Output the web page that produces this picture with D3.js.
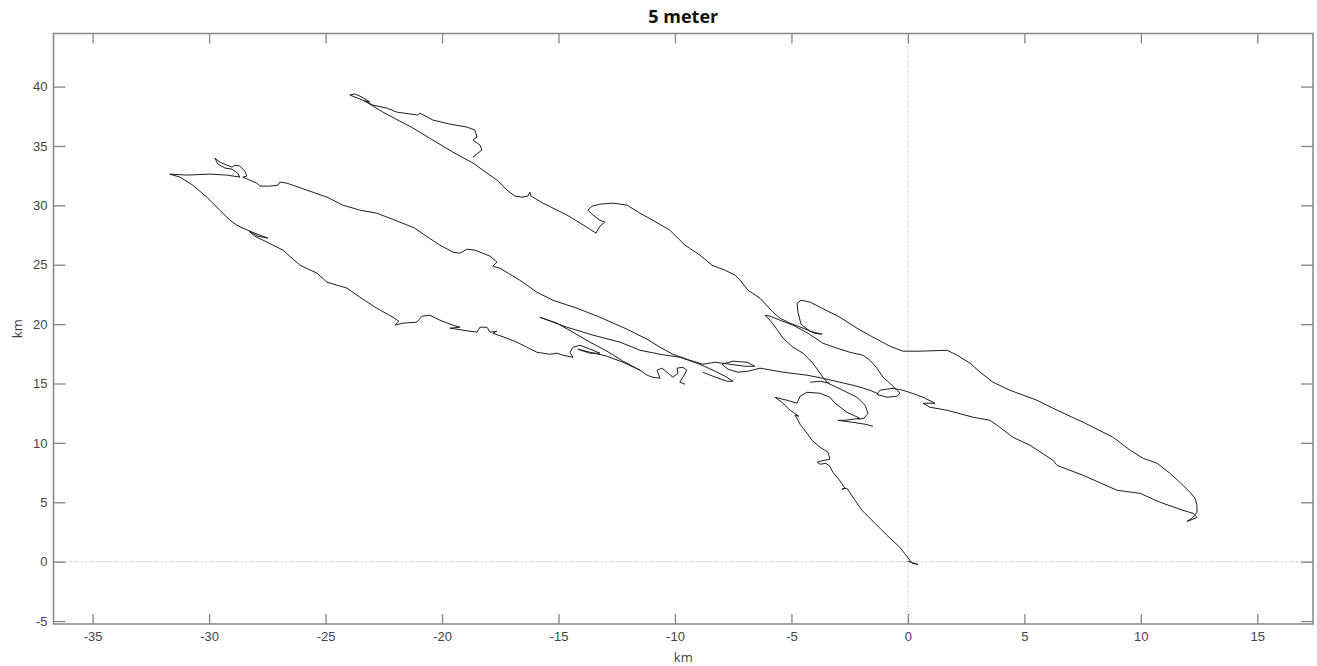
<!DOCTYPE html>
<html>
<head>
<meta charset="utf-8">
<script src="https://cdn.jsdelivr.net/npm/d3@7"></script>
<style>
  body { margin: 0; background: #fff; }
  svg { display: block; font-family: "Open Sans", sans-serif; }
</style>
</head>
<body>
<div id="chart"></div>
<script>
const chartTitle = "5 meter";
const xDomain = [-36.68, 17.39];
const yDomain = [-5.25, 44.47];
const xTicks = [-35, -30, -25, -20, -15, -10, -5, 0, 5, 10, 15];
const yTicks = [-5, 0, 5, 10, 15, 20, 25, 30, 35, 40];

// track pieces, km east / km north
const trackOrigin = [
  [0.0, 0.03], [0.43, -0.23], [0.18, -0.14], [-0.34, 1.2], [-0.9, 2.22], [-1.2, 2.81],
  [-1.5, 3.4], [-1.97, 4.32], [-2.36, 5.42], [-2.62, 6.18], [-2.83, 6.1], [-2.7, 6.2],
  [-3.0, 7.02], [-3.22, 7.52], [-3.35, 8.03], [-3.52, 8.28], [-3.77, 8.2], [-3.9, 8.37],
  [-3.6, 8.53], [-3.35, 8.62], [-3.43, 9.21], [-3.77, 9.63], [-4.12, 10.22], [-4.33, 10.81],
  [-4.63, 11.57], [-4.76, 12.07], [-4.85, 12.33], [-4.68, 12.24], [-5.06, 12.75], [-5.41, 13.42],
  [-5.71, 13.84], [-5.19, 13.59], [-4.76, 13.34], [-4.63, 13.93], [-4.33, 14.26], [-3.77, 14.18],
  [-3.35, 13.84], [-3.13, 13.34], [-2.62, 12.58], [-2.06, 12.07], [-2.7, 11.9], [-3.0, 11.9],
  [-2.4, 11.74], [-1.84, 11.57], [-1.5, 11.4]
];

const trackEast = [
  [-2.14, 11.99], [-1.89, 12.07], [-1.71, 12.49], [-1.84, 13.17], [-2.19, 13.84], [-2.79, 14.43],
  [-3.43, 15.02], [-3.65, 15.53], [-4.08, 16.71], [-4.5, 17.55], [-4.93, 18.05], [-5.36, 18.81],
  [-5.66, 19.66], [-5.92, 20.33], [-6.14, 20.75], [-5.92, 20.67], [-5.49, 20.33], [-4.93, 19.91],
  [-4.29, 19.23], [-3.65, 18.39], [-3.04, 17.97], [-2.49, 17.63], [-1.93, 17.38], [-1.63, 16.96],
  [-1.33, 16.29], [-1.07, 15.53], [-0.77, 15.02], [-0.47, 14.43], [-0.34, 14.18], [-0.47, 13.93],
  [-0.9, 13.84], [-1.33, 14.09], [-1.2, 14.43], [-0.64, 14.6], [-0.21, 14.43], [0.18, 14.18],
  [0.65, 13.84], [1.16, 13.34], [0.65, 13.34], [0.95, 13.0], [1.68, 12.75], [2.8, 12.16],
  [3.53, 11.9], [3.95, 11.31], [4.51, 10.47], [5.24, 9.8], [6.23, 8.53], [6.4, 8.11],
  [7.52, 7.27], [8.98, 6.01], [9.97, 5.75], [10.83, 5.0], [11.81, 4.32], [12.24, 4.07],
  [12.41, 3.73], [12.11, 3.48], [11.98, 3.4], [12.19, 3.65], [12.41, 4.15], [12.41, 4.74],
  [12.33, 5.33], [12.11, 5.84], [11.81, 6.43], [11.25, 7.44], [10.7, 8.28], [10.1, 8.7],
  [9.54, 9.38], [8.81, 10.47], [7.52, 11.74], [6.4, 12.75], [5.54, 13.59], [4.38, 14.43],
  [3.65, 15.11], [3.1, 15.95], [2.67, 16.71], [2.11, 17.38], [1.68, 17.8], [0.52, 17.72],
  [-0.21, 17.72], [-0.77, 18.14], [-1.5, 18.9], [-2.19, 19.66], [-2.92, 20.58], [-3.77, 21.42],
  [-4.2, 21.85], [-4.59, 22.01], [-4.76, 21.76], [-4.72, 21.0], [-4.59, 19.99], [-4.2, 19.4],
  [-3.69, 19.15], [-3.99, 19.23], [-4.5, 19.66], [-5.06, 20.08], [-5.49, 20.5], [-5.79, 21.0],
  [-6.35, 22.18], [-6.87, 22.86], [-7.21, 23.7], [-7.42, 24.12], [-7.85, 24.54], [-8.41, 24.96],
  [-8.93, 25.81], [-9.57, 26.65], [-10.22, 27.91], [-10.95, 28.75], [-11.5, 29.34], [-12.06, 30.02],
  [-12.66, 30.19], [-13.22, 30.1], [-13.56, 29.93], [-13.74, 29.6], [-13.52, 29.18], [-13.22, 28.75],
  [-13.01, 28.59], [-13.22, 28.25], [-13.39, 27.66], [-13.78, 28.16], [-14.64, 29.18], [-15.67, 30.19],
  [-16.18, 30.78], [-16.23, 31.11], [-16.31, 30.78], [-16.57, 30.69], [-16.87, 30.78], [-17.21, 31.28],
  [-17.64, 32.12], [-18.25, 32.97], [-18.67, 33.56], [-19.53, 34.48], [-20.39, 35.49], [-21.25, 36.51],
  [-21.81, 37.09], [-22.54, 37.85], [-23.31, 38.78], [-23.74, 39.12], [-23.96, 39.29], [-23.74, 39.38],
  [-23.44, 39.12], [-23.1, 38.69], [-23.35, 38.8], [-22.97, 38.44], [-22.37, 38.19], [-21.94, 37.85],
  [-21.04, 37.6], [-20.95, 37.77], [-20.39, 37.18], [-19.66, 36.84], [-18.93, 36.59], [-18.59, 36.34],
  [-18.5, 35.75], [-18.67, 35.49], [-18.37, 35.07], [-18.29, 34.65], [-18.46, 34.4], [-18.67, 34.06]
];

const trackWest = [
  [-1.33, 14.18], [-1.63, 14.43], [-2.19, 14.77], [-2.92, 15.11], [-3.65, 15.44], [-4.33, 15.7],
  [-5.36, 15.95], [-6.35, 16.29], [-6.87, 16.03], [-7.3, 15.95], [-7.72, 16.2], [-7.98, 16.62],
  [-7.51, 16.88], [-6.91, 16.79], [-6.57, 16.45], [-6.99, 16.45], [-7.64, 16.62], [-8.28, 16.79],
  [-8.8, 16.62], [-9.36, 16.96], [-10.09, 17.46], [-10.64, 18.05], [-11.2, 18.73], [-12.06, 19.57],
  [-13.22, 20.58], [-14.21, 21.34], [-15.24, 22.01], [-15.93, 22.69], [-16.66, 23.7], [-17.52, 24.71],
  [-17.82, 24.88], [-17.64, 25.22], [-17.94, 25.72], [-18.25, 25.97], [-18.59, 26.23], [-18.93, 26.31],
  [-19.23, 25.97], [-19.53, 26.06], [-20.09, 26.65], [-20.74, 27.49], [-21.17, 28.08], [-21.81, 28.59],
  [-22.8, 29.34], [-23.53, 29.6], [-24.26, 30.02], [-24.94, 30.69], [-25.8, 31.28], [-26.66, 31.87],
  [-26.96, 31.96], [-27.05, 31.7], [-27.39, 31.62], [-27.82, 31.62], [-27.95, 31.87], [-28.25, 32.12],
  [-28.55, 32.38], [-28.38, 32.46], [-28.46, 32.88], [-28.68, 33.3], [-28.89, 33.39], [-29.02, 33.22],
  [-29.24, 33.39], [-29.54, 33.64], [-29.75, 33.98], [-29.62, 33.47], [-29.32, 33.14], [-29.02, 33.05],
  [-28.77, 32.71], [-28.68, 32.38], [-29.24, 32.55], [-29.97, 32.63], [-30.96, 32.55], [-31.69, 32.63],
  [-31.26, 32.38], [-30.7, 31.7], [-30.1, 30.69], [-29.54, 29.6], [-29.11, 28.75], [-28.81, 28.33],
  [-28.55, 28.08], [-28.04, 27.66], [-27.48, 27.24], [-27.91, 27.41], [-28.29, 27.83], [-28.04, 27.41],
  [-27.69, 27.07], [-26.83, 26.23], [-26.1, 24.96], [-25.37, 24.29], [-24.94, 23.53], [-24.08, 23.03],
  [-23.53, 22.27], [-22.8, 21.34], [-22.11, 20.58], [-21.85, 20.24], [-22.02, 19.91], [-21.68, 20.08],
  [-21.08, 20.16], [-20.86, 20.67], [-20.52, 20.75], [-20.09, 20.33], [-19.53, 19.91], [-19.23, 19.74],
  [-19.66, 19.66], [-19.1, 19.49], [-18.5, 19.32], [-18.37, 19.74], [-18.07, 19.74], [-17.94, 19.32],
  [-17.64, 19.4], [-17.82, 19.23], [-17.21, 18.81], [-16.79, 18.48], [-16.36, 18.05], [-15.93, 17.63],
  [-15.37, 17.46], [-15.07, 17.55], [-14.81, 17.38], [-14.38, 17.21], [-14.51, 17.63], [-14.38, 18.05],
  [-14.08, 18.22], [-13.52, 17.8], [-13.22, 17.55], [-13.65, 17.55], [-14.17, 17.89], [-13.65, 17.63],
  [-12.92, 17.3], [-12.23, 16.79], [-11.5, 16.12], [-11.2, 15.7], [-10.95, 15.53], [-10.64, 15.44],
  [-10.77, 16.12], [-10.56, 16.29], [-10.34, 15.95], [-10.09, 15.53], [-9.87, 15.86], [-9.91, 16.29],
  [-9.66, 16.37], [-9.49, 16.12], [-9.66, 15.53], [-9.79, 15.11], [-9.57, 14.94]
];

const trackSplitLow = [
  [-15.8, 20.58], [-15.07, 20.08], [-14.38, 19.32], [-13.65, 18.48], [-12.92, 17.72],
  [-12.23, 16.88], [-11.5, 16.12]
];

const trackSplitHigh = [
  [-15.8, 20.58], [-14.64, 19.74], [-13.52, 19.07], [-12.36, 18.48], [-11.5, 17.8], [-10.64, 17.46],
  [-9.79, 17.21], [-8.93, 16.62], [-8.37, 16.12], [-7.85, 15.61], [-7.51, 15.19], [-7.77, 15.19],
  [-8.37, 15.61], [-8.8, 15.95]
];

const trackStub = [[-4.2, 15.11], [-3.77, 15.19], [-3.35, 15.02]];

const tracks = [trackOrigin, trackEast, trackWest, trackSplitLow, trackSplitHigh, trackStub];

const width = 1317;
const height = 666;
const margin = { top: 33.5, right: 4, bottom: 42, left: 53.5 };

const x = d3.scaleLinear().domain(xDomain).range([margin.left, width - margin.right]);
const y = d3.scaleLinear().domain(yDomain).range([height - margin.bottom, margin.top]);

const svg = d3
  .create("svg")
  .attr("width", width)
  .attr("height", height)
  .attr("viewBox", [0, 0, width, height]);

svg.append("rect").attr("width", width).attr("height", height).attr("fill", "#fff");

// dotted zero lines
svg
  .append("line")
  .attr("x1", x(0))
  .attr("x2", x(0))
  .attr("y1", y.range()[1])
  .attr("y2", y.range()[0])
  .attr("stroke", "#b4b4b4")
  .attr("stroke-dasharray", "1,1.5");
svg
  .append("line")
  .attr("x1", x.range()[0])
  .attr("x2", x.range()[1])
  .attr("y1", y(0))
  .attr("y2", y(0))
  .attr("stroke", "#b4b4b4")
  .attr("stroke-dasharray", "1,1.5");

const line = d3
  .line()
  .x((d) => x(d[0]))
  .y((d) => y(d[1]));

svg
  .append("g")
  .attr("fill", "none")
  .attr("stroke", "#1e1e1e")
  .attr("stroke-width", 1)
  .attr("stroke-linejoin", "round")
  .selectAll("path")
  .data(tracks)
  .join("path")
  .attr("d", line);

const axisColor = "#858585";
const plainNum = (d) => String(d); // hyphen minus like the original

const styleAxis = (g) => {
  g.select(".domain").remove();
  g.selectAll(".tick line").attr("stroke", axisColor).attr("stroke-width", 1.3);
  g.selectAll(".tick text").attr("fill", "#444").attr("font-size", 13);
};

svg
  .append("g")
  .attr("transform", `translate(0,${y.range()[0]})`)
  .call(d3.axisBottom(x).tickValues(xTicks).tickFormat(plainNum).tickSize(-10).tickPadding(8))
  .call(styleAxis);

svg
  .append("g")
  .attr("transform", `translate(0,${y.range()[1]})`)
  .call(d3.axisTop(x).tickValues(xTicks).tickSize(-10).tickFormat(""))
  .call(styleAxis);

svg
  .append("g")
  .attr("transform", `translate(${x.range()[0]},0)`)
  .call(d3.axisLeft(y).tickValues(yTicks).tickFormat(plainNum).tickSize(-12).tickPadding(6))
  .call(styleAxis);

svg
  .append("g")
  .attr("transform", `translate(${x.range()[1]},0)`)
  .call(d3.axisRight(y).tickValues(yTicks).tickSize(-12).tickFormat(""))
  .call(styleAxis);

// box
svg
  .append("rect")
  .attr("x", x.range()[0])
  .attr("y", y.range()[1])
  .attr("width", x.range()[1] - x.range()[0])
  .attr("height", y.range()[0] - y.range()[1])
  .attr("fill", "none")
  .attr("stroke", axisColor)
  .attr("stroke-width", 1.5);

svg
  .append("text")
  .attr("x", (x.range()[0] + x.range()[1]) / 2)
  .attr("y", 23)
  .attr("text-anchor", "middle")
  .attr("font-size", 18)
  .attr("font-weight", "bold")
  .attr("fill", "#111")
  .text(chartTitle);

svg
  .append("text")
  .attr("x", (x.range()[0] + x.range()[1]) / 2)
  .attr("y", 662)
  .attr("text-anchor", "middle")
  .attr("font-size", 13)
  .attr("fill", "#444")
  .text("km");

svg
  .append("text")
  .attr("transform", `translate(22,${(y.range()[0] + y.range()[1]) / 2}) rotate(-90)`)
  .attr("text-anchor", "middle")
  .attr("font-size", 13)
  .attr("fill", "#444")
  .text("km");

d3.select("#chart").append(() => svg.node());
</script>
</body>
</html>
